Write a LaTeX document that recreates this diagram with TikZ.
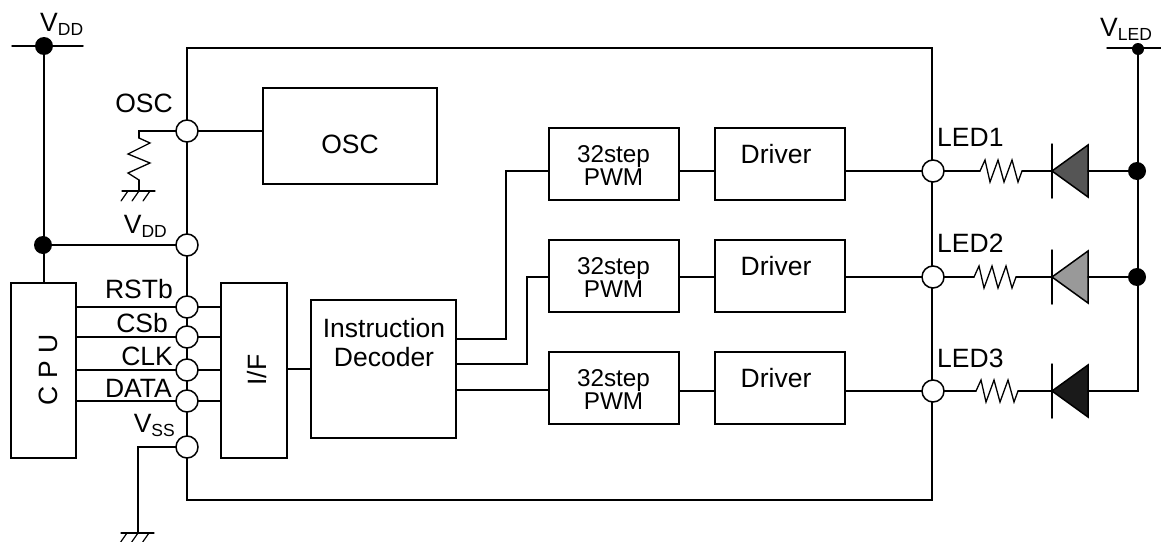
\documentclass[tikz,border=0pt]{standalone}
\usepackage{fontspec}
\setmainfont{Liberation Sans}
\usepackage{xcolor}
\usetikzlibrary{calc,positioning}
\definecolor{ledone}{HTML}{555555}
\definecolor{ledtwo}{HTML}{999999}
\definecolor{ledthree}{HTML}{1A1A1A}
\newcommand{\subv}[1]{V\raisebox{-0.16em}{\fontsize{17.5}{17.5}\selectfont #1}}
\tikzset{
    every picture/.style={line cap=round,line join=miter},
    wire/.style={draw=black,line width=1.5pt},
    blockbox/.style={draw=black,line width=1.5pt,fill=white,inner sep=0pt,outer sep=0pt},
    pinnode/.style={draw=black,circle,fill=white,line width=1.5pt,minimum size=22pt,inner sep=0pt,outer sep=0pt},
    dotnode/.style={circle,fill=black,minimum size=18pt,inner sep=0pt,outer sep=0pt},
    pinlabel/.style={anchor=base east,inner sep=0pt,font=\fontsize{26.5}{26.5}\selectfont},
    ledlabel/.style={anchor=base west,inner sep=0pt,font=\fontsize{26.5}{26.5}\selectfont},
    boxlabel/.style={inner sep=0pt,align=center,font=\fontsize{26.5}{29}\selectfont},
    pwmlabel/.style={inner sep=0pt,align=center,font=\fontsize{24.3}{23}\selectfont},
    gndsym/.pic={
      \draw[wire,line width=1.2pt] (-17,0)--(16,0);
      \foreach \h in {-11,0,11}{\draw[wire,line width=1.2pt] (\h,0)--(\h-7,10);}
    },
    resh/.pic={
      \draw[wire,line width=1.3pt] (0,0)--(5,-11)--(10,11)--(18,-11)--(24,11)--(32,-11)--(38,11)--(42,0);
    },
    resv/.pic={
      \draw[wire,line width=1.3pt] (0,0)--(11,5)--(-11,16)--(11,25)--(-11,35)--(0,42);
    }
}
\begin{document}
\begin{tikzpicture}[x=1pt,y=-1pt]
  \useasboundingbox (0,0) rectangle (1161,541);
  \node[blockbox,fill=none,minimum width=745pt,minimum height=452pt] (chip) at (559.5,274){};
  % pins on the left side
  \foreach \n/\y in {osc/131,vdd/245,rst/307,csb/337,clk/370,dat/401,vss/447}{\node[pinnode] (p\n) at (187,\y){};}
  \foreach \i/\y in {1/171,2/277,3/391}{\node[pinnode] (led\i) at (933,\y){};}
  % blocks
  \node[blockbox,minimum width=174pt,minimum height=96pt] (oscbox) at (350,136){};
  \node[blockbox,minimum width=65pt,minimum height=175pt] (cpu) at (43.5,370.5){};
  \node[blockbox,minimum width=66pt,minimum height=175pt] (ifbox) at (254,370.5){};
  \node[blockbox,minimum width=145pt,minimum height=138pt] (dec) at (383.5,369){};
  \foreach \i/\y in {1/164,2/276,3/388}{
    \node[blockbox,minimum width=130pt,minimum height=72pt] (pwm\i) at (614,\y){};
    \node[blockbox,minimum width=130pt,minimum height=72pt] (drv\i) at (780,\y){};
    \node[pwmlabel] (pwmtxt\i) at (613.5,\y+2){32step\\PWM};
    \node[boxlabel] (drvtxt\i) at (776,\y-10){Driver};
  }
  \node[boxlabel] (osctxt) at (350,144){OSC};
  \node[boxlabel,rotate=90] (cputxt) at (48,370){C P U};
  \node[boxlabel,rotate=90] (iftxt) at (257,370){I/F};
  \node[boxlabel] (dectxt) at (384,343){Instruction\\Decoder};
  % pin labels
  \node[pinlabel] (losc) at (173,112){OSC};
  \node[pinlabel] (lvdd) at (167,233){\subv{DD}};
  \node[pinlabel] (lrst) at (173,298){RSTb};
  \node[pinlabel] (lcsb) at (168,332){CSb};
  \node[pinlabel] (lclk) at (173,365){CLK};
  \node[pinlabel] (ldat) at (172,397){DATA};
  \node[pinlabel] (lvss) at (175,432){\subv{SS}};
  \node[ledlabel] (ltop) at (40,31){\subv{DD}};
  \node[ledlabel] (lled) at (1100,36){\subv{LED}};
  \foreach \i/\y in {1/146,2/252,3/367}{\node[ledlabel] (lled\i) at (937,\y){LED\i};}
  % supply on the left
  \node[dotnode] (vtop) at (44,46){};
  \node[dotnode] (vmid) at (43,245){};
  \coordinate (vtopa) at (12,46);
  \coordinate (vtopb) at (83,46);
  \draw[wire] (vtopa)--(vtopb);
  \draw[wire] (vtop)--(vtop|-cpu.north);
  \draw[wire] (vmid)--(pvdd);
  % interface lines
  \foreach \n in {rst,csb,clk,dat}{
    \draw[wire] (cpu.east|-p\n)--(p\n);
    \draw[wire] (p\n)--(ifbox.west|-p\n);
  }
  \draw[wire] (ifbox.east|-dec)--(dec.west);
  \draw[wire] (posc)--(oscbox.west|-posc);
  % OSC resistor
  \coordinate (rosc) at (139,131);
  \coordinate (rosca) at (139,138);
  \coordinate (roscb) at (139,180);
  \coordinate (gosc) at (139,191);
  \draw[wire] (posc)--(rosc)--(rosca);
  \pic at (rosca) {resv};
  \draw[wire] (roscb)--(gosc);
  \pic at (gosc) {gndsym};
  % VSS ground
  \coordinate (gvssa) at (138,447);
  \coordinate (gvss) at (138,533);
  \draw[wire] (pvss)--(gvssa)--(gvss);
  \pic at (gvss) {gndsym};
  % decoder to PWM
  \coordinate (deca) at (456,339);
  \coordinate (decb) at (456,364);
  \coordinate (decc) at (456,390);
  \draw[wire] (deca)-|(506,171)--(pwm1.west|-0,171);
  \draw[wire] (decb)-|(527,277)--(pwm2.west|-0,277);
  \draw[wire] (decc)--(pwm3.west|-decc);
  % LED rows
  \foreach \i/\y/\rx/\c in {1/171/980/ledone,2/277/974/ledtwo,3/391/976/ledthree}{
    \coordinate (ra\i) at (\rx,\y);
    \coordinate (rb\i) at (\rx+42,\y);
    \coordinate (bar\i) at (1052,\y);
    \coordinate (tip\i) at (1088,\y);
    \draw[wire] (pwm\i.east|-0,\y)--(drv\i.west|-0,\y);
    \draw[wire] (drv\i.east|-0,\y)--(led\i.west|-0,\y);
    \draw[wire] (led\i.east|-0,\y)--(ra\i);
    \pic at (ra\i) {resh};
    \draw[wire] (rb\i)--(bar\i);
    \draw[wire] ($(bar\i)+(0,-27)$)--($(bar\i)+(0,27)$);
    \draw[wire,fill=\c,line join=miter] (bar\i)--($(tip\i)+(0,-26)$)--($(tip\i)+(0,26)$)--cycle;
  }
  % supply on the right
  \node[dotnode,minimum size=12pt] (vled) at (1138,49){};
  \node[dotnode] (j1) at (1137,171){};
  \node[dotnode] (j2) at (1137,277){};
  \coordinate (jend) at (1138,391);
  \coordinate (vleda) at (1107,48);
  \coordinate (vledb) at (1161,48);
  \draw[wire] (vleda)--(vledb);
  \draw[wire] (vled)--(jend)--(tip3);
  \draw[wire] (tip1)--(j1);
  \draw[wire] (tip2)--(j2);
\end{tikzpicture}
\end{document}
